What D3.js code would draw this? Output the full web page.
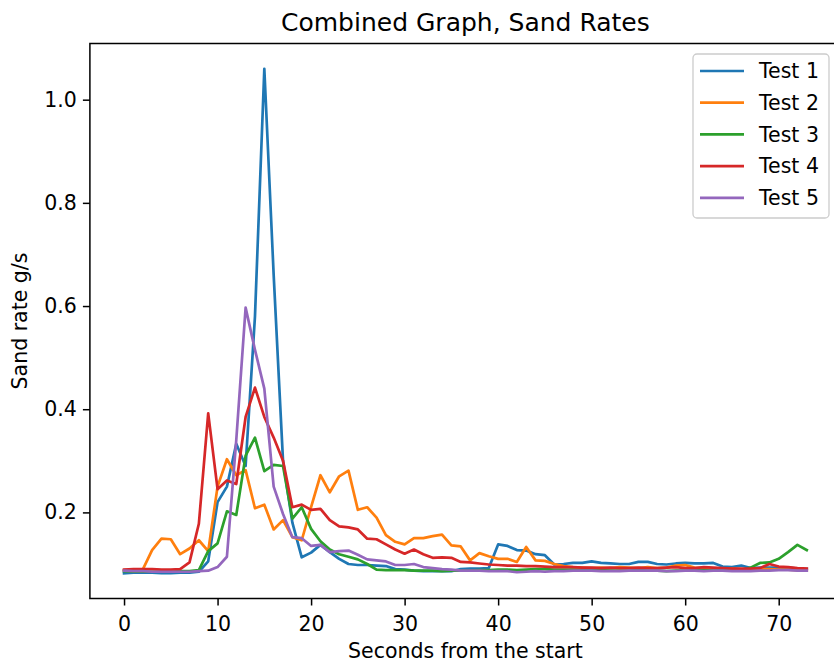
<!DOCTYPE html>
<html>
<head>
<meta charset="utf-8">
<script src="https://cdn.jsdelivr.net/npm/d3@7"></script>
<style>
  body { margin: 0; background: #fff; }
  svg { display: block; font-family: "DejaVu Sans", sans-serif; }
</style>
</head>
<body>
<svg id="chart"></svg>
<script>
// seconds from the start, one reading per second
const seconds = [0,1,2,3,4,5,6,7,8,9,10,11,12,13,14,15,16,17,18,19,20,21,22,23,24,25,26,27,28,29,
  30,31,32,33,34,35,36,37,38,39,40,41,42,43,44,45,46,47,48,49,50,51,52,53,54,55,56,57,58,59,
  60,61,62,63,64,65,66,67,68,69,70,71,72,73];

const test1 = [0.082,0.083,0.083,0.083,0.082,0.082,0.083,0.083,0.085,0.105,
  0.22,0.25,0.333,0.29,0.58,1.06,0.66,0.30,0.18,0.113,
  0.122,0.137,0.123,0.11,0.1,0.098,0.098,0.097,0.096,0.09,
  0.089,0.087,0.086,0.086,0.086,0.086,0.09,0.091,0.091,0.092,
  0.138,0.135,0.127,0.126,0.119,0.117,0.099,0.1,0.102,0.102,
  0.105,0.102,0.101,0.1,0.1,0.104,0.104,0.1,0.099,0.101,
  0.102,0.101,0.101,0.102,0.095,0.094,0.097,0.092,0.093,0.093,
  0.093,0.093,0.091,0.09];

const test2 = [0.088,0.088,0.089,0.127,0.149,0.148,0.119,0.13,0.146,0.125,
  0.25,0.303,0.272,0.282,0.208,0.215,0.167,0.185,0.152,0.146,
  0.21,0.272,0.239,0.27,0.281,0.205,0.21,0.19,0.156,0.143,
  0.138,0.15,0.15,0.154,0.157,0.136,0.134,0.107,0.121,0.115,
  0.11,0.11,0.104,0.133,0.107,0.106,0.1,0.096,0.094,0.093,
  0.092,0.093,0.092,0.094,0.093,0.092,0.094,0.092,0.093,0.097,
  0.098,0.093,0.092,0.09,0.09,0.091,0.09,0.089,0.09,0.09,
  0.089,0.089,0.088,0.088];

const test3 = [0.086,0.085,0.085,0.085,0.085,0.085,0.086,0.086,0.088,0.125,
  0.14,0.202,0.195,0.31,0.345,0.28,0.292,0.29,0.188,0.21,
  0.168,0.144,0.128,0.119,0.114,0.109,0.1,0.089,0.088,0.088,
  0.088,0.087,0.087,0.087,0.086,0.087,0.087,0.087,0.088,0.088,
  0.089,0.089,0.088,0.089,0.09,0.09,0.089,0.089,0.089,0.088,
  0.088,0.088,0.087,0.087,0.087,0.088,0.087,0.087,0.086,0.087,
  0.087,0.088,0.088,0.087,0.088,0.088,0.088,0.093,0.102,0.103,
  0.11,0.123,0.137,0.127];

const test4 = [0.089,0.09,0.09,0.09,0.089,0.089,0.09,0.103,0.178,0.392,
  0.245,0.262,0.255,0.385,0.442,0.385,0.345,0.3,0.21,0.215,
  0.205,0.207,0.185,0.173,0.171,0.167,0.149,0.148,0.138,0.128,
  0.12,0.128,0.119,0.112,0.113,0.112,0.104,0.103,0.101,0.099,
  0.098,0.097,0.097,0.096,0.096,0.095,0.094,0.094,0.094,0.093,
  0.093,0.092,0.093,0.092,0.092,0.093,0.092,0.092,0.093,0.094,
  0.092,0.092,0.094,0.093,0.092,0.091,0.091,0.091,0.092,0.1,
  0.095,0.094,0.092,0.091];

const test5 = [0.087,0.086,0.086,0.085,0.085,0.085,0.085,0.085,0.086,0.087,
  0.094,0.114,0.34,0.597,0.515,0.44,0.25,0.197,0.152,0.15,
  0.135,0.137,0.123,0.125,0.126,0.118,0.109,0.107,0.105,0.098,
  0.098,0.1,0.094,0.092,0.09,0.089,0.087,0.087,0.087,0.086,
  0.086,0.086,0.084,0.085,0.086,0.085,0.086,0.086,0.087,0.087,
  0.087,0.086,0.086,0.086,0.087,0.087,0.087,0.087,0.086,0.086,
  0.087,0.087,0.086,0.087,0.087,0.086,0.086,0.086,0.087,0.087,
  0.088,0.088,0.087,0.087];

const seriesNames = ["Test 1", "Test 2", "Test 3", "Test 4", "Test 5"];
const seriesColors = ["#1f77b4", "#ff7f0e", "#2ca02c", "#d62728", "#9467bd"];
const xTicks = [0, 10, 20, 30, 40, 50, 60, 70];
const yTicks = [0.2, 0.4, 0.6, 0.8, 1.0];

const allSeries = [test1, test2, test3, test4, test5];

const width = 834;
const height = 665;
const plotL = 89.9, plotR = 840.9, plotT = 43.5, plotB = 598.5;
const fs = 20.5;

var svg = d3.select("#chart").attr("width", width).attr("height", height);

// matplotlib style 5% margins
const xExt = d3.extent(seconds);
const xPad = (xExt[1] - xExt[0]) * 0.05;
const yExt = d3.extent(allSeries.flat());
const yPad = (yExt[1] - yExt[0]) * 0.05;

const x = d3.scaleLinear().domain([xExt[0] - xPad, xExt[1] + xPad]).range([plotL, plotR]);
const y = d3.scaleLinear().domain([yExt[0] - yPad, yExt[1] + yPad]).range([plotB, plotT]);

svg.append("defs").append("clipPath").attr("id", "clip")
  .append("rect")
  .attr("x", plotL).attr("y", plotT)
  .attr("width", plotR - plotL).attr("height", plotB - plotT);

// lines
const line = d3.line()
  .x((d, i) => x(seconds[i]))
  .y(d => y(d));

svg.append("g")
  .attr("clip-path", "url(#clip)")
  .selectAll("path")
  .data(allSeries)
  .join("path")
  .attr("d", d => line(d))
  .attr("fill", "none")
  .attr("stroke", (d, i) => seriesColors[i])
  .attr("stroke-width", 2.7)
  .attr("stroke-linejoin", "round")
  .attr("stroke-linecap", "square");

// axes
var xAxis = svg.append("g")
  .attr("transform", "translate(0," + plotB + ")")
  .call(d3.axisBottom(x).tickValues(xTicks).tickFormat(d3.format("d")).tickSize(7).tickPadding(11));

var yAxis = svg.append("g")
  .attr("transform", "translate(" + plotL + ",0)")
  .call(d3.axisLeft(y).tickValues(yTicks).tickFormat(d3.format(".1f")).tickSize(7).tickPadding(6));

[xAxis, yAxis].forEach(a => {
  a.select(".domain").remove();
  a.selectAll(".tick line").attr("stroke", "#000").attr("stroke-width", 1.5);
  a.selectAll(".tick text").attr("fill", "#000").style("font-size", fs + "px")
    .style("font-family", "DejaVu Sans, sans-serif");
});

// frame
svg.append("rect")
  .attr("x", plotL).attr("y", plotT)
  .attr("width", plotR - plotL).attr("height", plotB - plotT)
  .attr("fill", "none")
  .attr("stroke", "#000")
  .attr("stroke-width", 1.5);

// title and labels
svg.append("text")
  .attr("x", (plotL + plotR) / 2).attr("y", 31)
  .attr("text-anchor", "middle")
  .style("font-size", "25px")
  .text("Combined Graph, Sand Rates");

svg.append("text")
  .attr("x", (plotL + plotR) / 2).attr("y", 658)
  .attr("text-anchor", "middle")
  .style("font-size", fs + "px")
  .text("Seconds from the start");

svg.append("text")
  .attr("transform", "translate(27," + ((plotT + plotB) / 2) + ") rotate(-90)")
  .attr("text-anchor", "middle")
  .style("font-size", fs + "px")
  .text("Sand rate g/s");

// legend
var legend = svg.append("g").attr("transform", "translate(693,54)");
legend.append("rect")
  .attr("width", 136).attr("height", 164)
  .attr("rx", 4)
  .attr("fill", "#fff").attr("fill-opacity", 0.8)
  .attr("stroke", "#ccc").attr("stroke-width", 1.3);

var item = legend.selectAll("g.item")
  .data(seriesNames)
  .join("g")
  .attr("class", "item")
  .attr("transform", (d, i) => "translate(0," + (17 + i * 31.7) + ")");

item.append("line")
  .attr("x1", 7).attr("x2", 51)
  .attr("stroke", (d, i) => seriesColors[i])
  .attr("stroke-width", 2.7);

item.append("text")
  .attr("x", 66).attr("dy", "0.36em")
  .style("font-size", fs + "px")
  .text(d => d);
</script>
</body>
</html>
